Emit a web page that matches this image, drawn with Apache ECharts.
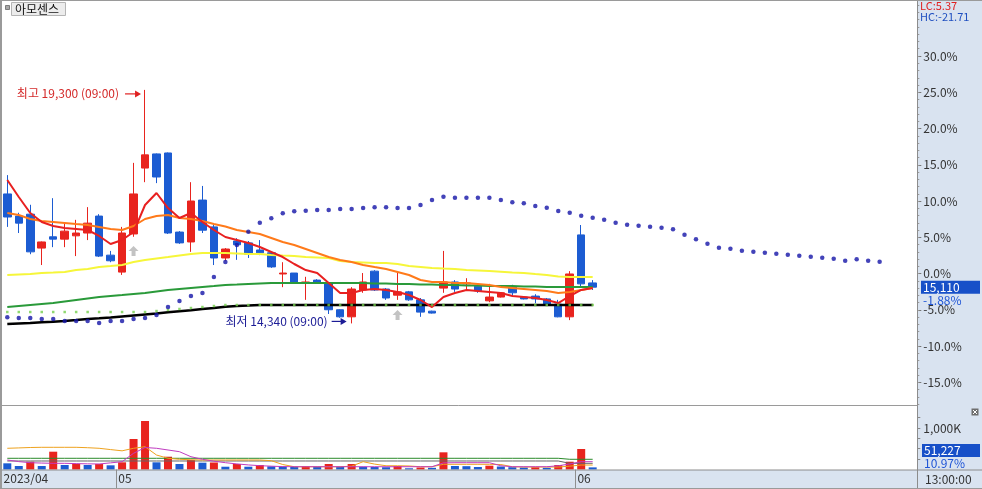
<!DOCTYPE html>
<html><head><meta charset="utf-8">
<script src="https://cdn.jsdelivr.net/npm/echarts@6/dist/echarts.min.js"></script>
<style>html,body{margin:0;padding:0;background:#fff}#c{width:982px;height:489px}</style>
</head><body><div id="c"></div>
<script>
// ---------- data ----------
const stockName = '아모센스';
const basePrice = 15400;
const lcText = 'LC:5.37';
const hcText = 'HC:-21.71';
const timeText = '13:00:00';
const volRatioText = '10.97%';
const hiTime = '09:00';
const loTime = '09:00';
const dayStartIdx = [0, 10, 50];
const dayText = ['2023/04', '05', '06'];

const opens  = [17090,16620,16660,15940,16180,16130,16200,16260,16620,15790,15430,16240,17640,17940,17960,16280,16070,16960,16390,15730,16090,16050,15900,15840,15390,15410,15200,15260,15200,14630,14480,15050,15450,15070,14940,15010,14840,14600,15090,15220,15180,15130,14820,14900,15110,14900,14920,14860,14750,14480,16220,15200];
const closes = [16600,16470,15860,16070,16130,16300,16260,16470,15770,15670,16260,17090,17920,17450,16260,16050,16940,16320,15730,15920,16010,15810,15840,15540,15410,15200,15220,15200,14630,14480,15070,15220,15050,14880,15010,14840,14580,14560,15220,15070,15200,15030,14900,14990,14990,14860,14860,14750,14480,15390,15180,15110];
const lows   = [16390,16260,15810,15580,15960,15960,15770,16110,15750,15640,15370,16180,17340,17320,16240,16030,15860,16260,15580,15670,15690,15730,15790,15520,15110,15180,14840,15190,14540,14460,14340,14990,15030,14840,14840,14820,14480,14550,14990,15010,15050,14990,14790,14890,14900,14850,14770,14730,14470,14410,15130,15050];
const highs  = [17490,16690,16860,16080,17000,16490,16540,16810,16660,15880,16390,17750,19300,17950,17970,16300,17340,17260,16430,15940,16150,16090,16110,15860,15640,15410,15330,15280,15210,14640,15110,15410,15470,15090,15430,15030,14880,14610,15880,15260,15300,15180,15180,15000,15160,14910,14960,14880,14840,15450,16430,15260];

const maRed    = [17386,17025,16685,16494,16409,16366,16345,16324,16197,16027,16112,16281,16855,17110,16791,16579,16685,16494,16324,16175,16112,16048,15963,15857,15750,15602,15474,15411,15198,14986,14986,15050,15071,15050,15007,14943,14837,14688,14901,14986,15050,15028,15007,14986,14922,14901,14880,14837,14773,14922,15050,15092];
const maOrange = [16685,16643,16558,16515,16494,16473,16451,16430,16388,16345,16324,16409,16558,16621,16643,16579,16558,16515,16451,16398,16324,16281,16239,16154,16069,16005,15920,15835,15750,15687,15644,15581,15538,15496,15432,15368,15262,15219,15219,15198,15198,15177,15156,15113,15092,15071,15050,15028,14986,15007,15050,15092];
const maYellow = [15368,15379,15389,15411,15421,15432,15474,15496,15538,15559,15581,15644,15687,15719,15750,15782,15814,15835,15835,15835,15825,15814,15814,15793,15782,15772,15750,15740,15729,15666,15644,15634,15623,15623,15602,15559,15538,15517,15506,15496,15474,15464,15453,15438,15421,15411,15389,15368,15336,15326,15326,15326];
const maGreen  = [14688,14710,14731,14752,14773,14805,14837,14869,14901,14922,14943,14965,14986,15018,15050,15071,15092,15113,15134,15156,15166,15177,15188,15198,15198,15198,15198,15198,15198,15198,15198,15198,15188,15188,15177,15177,15166,15166,15156,15156,15145,15145,15134,15134,15134,15124,15124,15113,15113,15113,15113,15113];
const maBlack  = [14327,14338,14349,14363,14376,14391,14412,14434,14448,14465,14487,14508,14529,14550,14576,14597,14618,14646,14667,14695,14710,14720,14731,14731,14731,14731,14731,14731,14731,14731,14731,14731,14731,14731,14731,14731,14731,14731,14731,14731,14731,14731,14731,14731,14731,14731,14731,14731,14731,14731,14731,14731];
const greenDots = [14582,14582,14582,14582,14582,14582,14582,14582,14582,14582,14582,14582,14582,14603,14625,14646,14667,14688,14710,14731,14731,14731,14731,14731,14731,14731,14731,14731,14731,14731,14731,14731,14731,14731,14731,14731,14731,14731,14731,14731,14731,14731,14731,14731,14731,14731,14731,14731,14731,14731,14731,14731];
const blueDots = [14470,14455,14455,14434,14434,14391,14391,14391,14349,14391,
                  14391,14434,14455,14519,14688,14816,14922,14986,15326,15644,
                  16005,16288,16479,16572,16679,16721,16734,16749,16749,16770,
                  16770,16791,16806,16806,16791,16791,16855,16961,17031,17010,
                  17010,17010,17010,16961,16912,16891,16834,16798,16728,16691,
                  16628,16585,16543,16479,16437,16415,16394,16373,16339,16224,
                  16126,16033,15948,15927,15884,15863,15842,15821,15799,15778,
                  15757,15736,15714,15672,15702,15672,15651];
const signalIdx = [11, 34];
const signalPrice = [15880, 14520];

// volumes in K shares
const volumes = [149,84,188,84,429,108,133,108,133,101,173,735,1169,173,308,133,229,164,169,67,133,67,108,77,72,67,84,67,133,67,133,65,60,55,84,29,48,41,414,84,80,60,92,72,55,48,55,41,108,188,494,51.227];
const volMaOrange  = [511,520,530,535,535,535,535,525,511,480,450,511,549,349,270,246,235,229,229,229,229,229,229,212,120,67,67,67,67,67,80,188,130,90,90,85,67,67,125,125,125,125,125,120,67,60,60,60,60,80,108,108];
const volMaMagenta = [229,190,164,155,149,149,142,136,133,160,188,390,530,511,470,429,308,246,200,164,135,110,92,80,70,67,67,67,67,67,67,67,67,67,67,67,67,67,160,164,164,164,164,90,67,67,67,67,90,133,188,188];
const volMaGreen   = [270,270,270,270,270,270,270,270,270,270,270,270,270,270,270,270,270,270,270,270,270,270,270,270,270,270,270,270,270,270,270,270,270,270,270,270,270,270,270,270,270,270,270,270,270,270,270,270,270,246,246,246];
const volMaGray    = [205,205,205,205,205,205,205,205,205,205,205,205,205,205,205,205,205,205,205,205,205,205,205,205,205,205,205,205,205,205,205,205,205,205,205,205,205,205,205,205,205,205,205,205,205,205,205,205,205,149,149,149];

// ---------- chart ----------
const F = '"Noto Sans CJK KR", "Noto Sans", sans-serif';
const RED = '#e8241e', BLUE = '#1c5cd2';
const N = 80, BAND = 11.478, GL = 1.56;
const GR = 982 - (GL + N * BAND);
const PMIN = 12607, PMAX = 21167, VMAX = 1506;
const cats = []; for (let i = 0; i < N; i++) cats.push(String(i));
const edgeCats = []; for (let i = 0; i <= N; i++) edgeCats.push(String(i));
const majorPct = [-15,-10,-5,0,5,10,15,20,25,30];
const minorPct = []; for (let k = -18; k <= 37; k++) minorPct.push(k);
const majorVals = majorPct.map(k => basePrice * (1 + k / 100));
const minorVals = minorPct.map(k => basePrice * (1 + k / 100));
const fmt = v => Math.round(v).toString().replace(/\B(?=(\d{3})+(?!\d))/g, ',');
const pctFmt = v => { const p = Math.round((v / basePrice - 1) * 1000) / 10; return (p === 0 ? 0 : p).toFixed(1) + '%'; };

const candleData = opens.map((o, i) => [o, closes[i], lows[i], highs[i]]);
const volData = volumes.map((v, i) => ({
  value: v,
  itemStyle: { color: (i > 0 && v >= volumes[i - 1]) ? RED : BLUE }
}));

const chart = echarts.init(document.getElementById('c'), null, { renderer: 'canvas', width: 982, height: 489 });

const line = (data, color, width, xi, yi) => ({
  type: 'line', data, xAxisIndex: xi, yAxisIndex: yi, showSymbol: false, symbol: 'none',
  lineStyle: { color, width }, itemStyle: { color }, smooth: false, silent: true, z: 3
});

chart.setOption({
  animation: false,
  backgroundColor: '#ffffff',
  grid: [
    { left: GL, right: GR, top: 2, height: 403 },
    { left: GL, right: GR, top: 407, height: 62.5 }
  ],
  xAxis: [
    { type: 'category', gridIndex: 0, data: cats, boundaryGap: true, show: false },
    { type: 'category', gridIndex: 1, data: cats, boundaryGap: true, show: false },
    { type: 'category', gridIndex: 1, data: edgeCats, boundaryGap: false, position: 'bottom', z: 5,
      axisLine: { show: false },
      axisTick: { show: true, interval: (i) => dayStartIdx.indexOf(i) > 0, length: 19, lineStyle: { color: '#8f8f8f' } },
      axisLabel: { show: true, interval: (i) => dayStartIdx.indexOf(i) >= 0,
        formatter: (v, i) => { const k = dayStartIdx.indexOf(i); return k >= 0 ? dayText[k] : ''; },
        align: 'left', padding: [0, 0, 0, 2], margin: 3, color: '#333', fontSize: 12, fontFamily: F },
      splitLine: { show: false } }
  ],
  yAxis: [
    { type: 'value', gridIndex: 0, position: 'right', offset: -2.5, min: PMIN, max: PMAX, z: 5,
      axisLine: { show: false }, splitLine: { show: false },
      axisTick: { show: true, customValues: majorVals, length: 4, lineStyle: { color: '#777' } },
      axisLabel: { show: true, customValues: majorVals, formatter: pctFmt, margin: 6, color: '#333', fontSize: 12, fontFamily: F } },
    { type: 'value', gridIndex: 0, position: 'right', offset: -2.5, min: PMIN, max: PMAX, z: 5,
      axisLine: { show: false }, splitLine: { show: false },
      axisTick: { show: true, customValues: minorVals, length: 2, lineStyle: { color: '#999' } },
      axisLabel: { show: false } },
    { type: 'value', gridIndex: 1, position: 'right', offset: -2.5, min: 0, max: VMAX, z: 5,
      axisLine: { show: false }, splitLine: { show: false },
      axisTick: { show: true, customValues: [250, 500, 750, 1000, 1250], length: 3, lineStyle: { color: '#888' } },
      axisLabel: { show: true, customValues: [1000], formatter: v => fmt(v) + 'K', margin: 6, color: '#333', fontSize: 12, fontFamily: F } }
  ],
  series: [
    { type: 'candlestick', data: candleData, xAxisIndex: 0, yAxisIndex: 0, barWidth: 8, z: 2,
      itemStyle: { color: RED, color0: BLUE, borderColor: RED, borderColor0: BLUE, borderWidth: 1 } },
    line(maBlack, '#000000', 2.5, 0, 0),
    line(maGreen, '#2a9a3a', 2, 0, 0),
    line(maYellow, '#f6f63a', 2, 0, 0),
    line(maOrange, '#ff7a1a', 2, 0, 0),
    line(maRed, '#e82020', 2, 0, 0),
    { type: 'scatter', data: greenDots, xAxisIndex: 0, yAxisIndex: 0, symbol: 'rect', symbolSize: 2.5,
      itemStyle: { color: '#74d04c' }, z: 4, silent: true },
    { type: 'scatter', data: blueDots, xAxisIndex: 0, yAxisIndex: 0, symbol: 'circle', symbolSize: 4.5,
      itemStyle: { color: '#1414a8' }, z: 4, silent: true },
    { type: 'scatter', data: signalIdx.map((x, i) => [x, signalPrice[i]]), xAxisIndex: 0, yAxisIndex: 0,
      symbol: 'path://M5,0 L10,5 L7,5 L7,10 L3,10 L3,5 L0,5 Z', symbolSize: [10, 10],
      itemStyle: { color: '#b4b4b4' }, z: 4, silent: true },
    { type: 'bar', data: volData, xAxisIndex: 1, yAxisIndex: 2, barWidth: 8, z: 2 },
    line(volMaGray, '#666666', 1, 1, 2),
    line(volMaGreen, '#2a8a2a', 1, 1, 2),
    line(volMaOrange, '#eea21e', 1, 1, 2),
    line(volMaMagenta, '#c03cc0', 1, 1, 2)
  ]
});

// ---------- overlays ----------
const hi = Math.max(...highs), hiIdx = highs.indexOf(hi);
const lo = Math.min(...lows), loIdx = lows.indexOf(lo);
const [hx, hy] = chart.convertToPixel({ xAxisIndex: 0, yAxisIndex: 0 }, [hiIdx, hi]);
const [lx, ly] = chart.convertToPixel({ xAxisIndex: 0, yAxisIndex: 0 }, [loIdx, lo]);
const lastClose = closes[closes.length - 1];
const py = chart.convertToPixel({ yAxisIndex: 0 }, lastClose);
const lastPct = ((lastClose / basePrice - 1) * 100).toFixed(2) + '%';
const lastVol = volumes[volumes.length - 1];

function arrow(x1, x2, y, color) {
  return [
    { type: 'line', z: 20, shape: { x1: x1, y1: y, x2: x2 - 5, y2: y }, style: { stroke: color, lineWidth: 1.2 } },
    { type: 'polygon', z: 20, shape: { points: [[x2 - 6, y - 3.5], [x2, y], [x2 - 6, y + 3.5]] }, style: { fill: color } }
  ];
}
const txt = (text, x, y, fill, align, size) => ({
  type: 'text', z: 20, style: { text, x, y, fill, font: (size || 12) + 'px ' + F, align: align || 'left', verticalAlign: 'middle' }
});

const G = [
  { type: 'rect', z: 1, shape: { x: 917.5, y: 0, width: 64.5, height: 489 }, style: { fill: '#d9e3f0' } },
  { type: 'rect', z: 1, shape: { x: 0, y: 470, width: 917.5, height: 19 }, style: { fill: '#d9e3f0' } },
  { type: 'line', z: 6, shape: { x1: 917.5, y1: 0, x2: 917.5, y2: 489 }, style: { stroke: '#8c8c8c', lineWidth: 1 } },
  { type: 'line', z: 6, shape: { x1: 0, y1: 405.5, x2: 917.5, y2: 405.5 }, style: { stroke: '#9a9a9a', lineWidth: 1 } },
  { type: 'line', z: 6, shape: { x1: 0, y1: 470, x2: 982, y2: 470 }, style: { stroke: '#8c8c8c', lineWidth: 1 } },
  { type: 'line', z: 6, shape: { x1: 0, y1: 0.5, x2: 982, y2: 0.5 }, style: { stroke: '#9a9a9a', lineWidth: 1 } },
  { type: 'line', z: 6, shape: { x1: 0, y1: 488.5, x2: 982, y2: 488.5 }, style: { stroke: '#9a9a9a', lineWidth: 1 } },
  { type: 'rect', z: 6, shape: { x: 0, y: 0, width: 2, height: 489 }, style: { fill: '#9a9a9a' } },
  { type: 'rect', z: 20, shape: { x: 5.5, y: 5.5, width: 4, height: 4 }, style: { fill: '#a9a9a9', stroke: '#7d7d7d', lineWidth: 1 } },
  { type: 'rect', z: 20, shape: { x: 11.5, y: 2.5, width: 54, height: 13 }, style: { fill: '#ececec', stroke: '#b4b4b4', lineWidth: 1 } },
  txt(stockName, 15, 9.5, '#111', 'left', 12),
  txt(lcText, 920, 6, '#e02020', 'left', 11),
  txt(hcText, 920, 16.5, '#1f4fc0', 'left', 11),
  txt(timeText, 925, 479.5, '#333', 'left', 12),
  { type: 'rect', z: 20, shape: { x: 922, y: 444, width: 58, height: 13 }, style: { fill: '#1750c8' } },
  txt(fmt(lastVol * 1000), 924, 450.5, '#ffffff', 'left', 12),
  txt(volRatioText, 924, 463, '#1f55d6', 'left', 12),
  { type: 'rect', z: 20, shape: { x: 971.5, y: 408.5, width: 7, height: 7 }, style: { fill: '#6e6e6e' } },
  { type: 'line', z: 21, shape: { x1: 973, y1: 410, x2: 977, y2: 414 }, style: { stroke: '#fff', lineWidth: 1 } },
  { type: 'line', z: 21, shape: { x1: 977, y1: 410, x2: 973, y2: 414 }, style: { stroke: '#fff', lineWidth: 1 } },
  { type: 'rect', z: 20, shape: { x: 921, y: py - 6.5, width: 59, height: 13 }, style: { fill: '#1750c8' } },
  txt(fmt(lastClose), 923, py, '#ffffff', 'left', 12),
  txt(lastPct, 923, py + 13, '#1f55d6', 'left', 12),
  txt('최고 ' + fmt(hi) + ' (' + hiTime + ')', hx - 26, hy + 4, '#d42a2a', 'right', 12),
  ...arrow(hx - 20, hx - 4, hy + 4, '#e02020'),
  txt('최저 ' + fmt(lo) + ' (' + loTime + ')', lx - 24, ly - 2, '#1c1c96', 'right', 12),
  ...arrow(lx - 20, lx - 5, ly - 2, '#1c1c96')
];
chart.setOption({ graphic: { elements: G } });
</script>
</body></html>
